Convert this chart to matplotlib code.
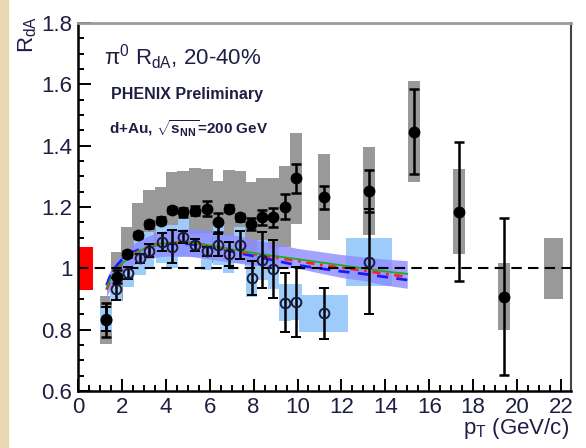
import matplotlib
matplotlib.use("Agg")
import matplotlib.pyplot as plt
from matplotlib.patches import Rectangle
from matplotlib.ticker import MultipleLocator
import numpy as np

plt.rcParams['font.family'] = ['Liberation Sans', 'DejaVu Sans']
plt.rcParams['mathtext.fontset'] = 'custom'
plt.rcParams['mathtext.rm'] = 'Liberation Sans'
plt.rcParams['mathtext.it'] = 'Liberation Sans:italic'
plt.rcParams['mathtext.bf'] = 'Liberation Sans:bold'

# filled points (black) with stat errors and gray sys boxes
pt_fill = [1.28, 1.76, 2.22, 2.75, 3.24, 3.76, 4.29, 4.80, 5.33, 5.86, 6.39, 6.87, 7.39, 7.90, 8.40, 8.90, 9.43, 9.93,
           11.22, 13.26, 15.32, 17.37, 19.41]
r_fill = [0.832, 0.973, 1.047, 1.109, 1.143, 1.155, 1.190, 1.183, 1.188, 1.195, 1.150, 1.195, 1.166, 1.145, 1.166,
          1.166, 1.201, 1.294, 1.232, 1.253, 1.446, 1.185, 0.908]
stat_fill = [0.055, 0.02, 0.01, 0.01, 0.01, 0.012, 0.01, 0.015, 0.015, 0.025, 0.03, 0.01, 0.012, 0.02, 0.025, 0.03,
             0.04, 0.047, 0.038, 0.068, 0.139, 0.226, 0.255]
sys_fill = [0.078, 0.081, 0.089, 0.103, 0.111, 0.11, 0.125, 0.135, 0.138, 0.13, 0.134, 0.125, 0.15, 0.136, 0.128,
            0.128, 0.133, 0.148, 0.14, 0.144, 0.165, 0.138, 0.11]

# open points with light blue sys boxes
pt_open = [1.28, 1.73, 2.29, 2.82, 3.22, 3.81, 4.29, 4.80, 5.33, 5.86, 6.39, 6.86, 7.37, 7.91, 8.40, 8.90, 9.43, 9.93,
           11.20, 13.26]
r_open = [0.835, 0.932, 0.984, 1.033, 1.058, 1.085, 1.071, 1.103, 1.075, 1.056, 1.076, 1.046, 1.076, 0.968, 1.027,
          0.997, 0.888, 0.890, 0.853, 1.022]
stat_open = [0.04, 0.035, 0.02, 0.015, 0.02, 0.03, 0.055, 0.02, 0.02, 0.015, 0.035, 0.04, 0.045, 0.055, 0.092, 0.095,
             0.097, 0.113, 0.083, 0.17]
sys_open = [0.035, 0.04, 0.045, 0.055, 0.06, 0.068, 0.07, 0.065, 0.037, 0.06, 0.065, 0.06, 0.058, 0.06, 0.065,
            0.065, 0.06, 0.06, 0.06, 0.078]
bin_open = [0.26] * 18 + [1.12, 1.05]

# theory curves and band
pt_th = [1.3, 1.4, 1.5, 1.75, 2, 2.5, 3, 3.5, 4, 5, 6, 7, 8, 9, 10, 11, 12, 13, 14, 15]
th_green = [0.935, 0.952, 0.968, 0.995, 1.015, 1.045, 1.064, 1.076, 1.082, 1.085, 1.075, 1.062, 1.05, 1.04, 1.03,
            1.02, 1.01, 1.0, 0.99, 0.982]
th_red = [0.93, 0.948, 0.965, 0.993, 1.014, 1.045, 1.065, 1.077, 1.083, 1.085, 1.074, 1.06, 1.047, 1.035, 1.024,
          1.012, 1.002, 0.993, 0.982, 0.972]
th_blue = [0.945, 0.963, 0.98, 1.008, 1.028, 1.053, 1.068, 1.076, 1.08, 1.08, 1.07, 1.055, 1.04, 1.025, 1.01, 1.0,
           0.99, 0.982, 0.972, 0.962]
band_hi = [0.965, 0.982, 0.998, 1.027, 1.048, 1.078, 1.099, 1.114, 1.124, 1.13, 1.125, 1.11, 1.095, 1.08, 1.065,
           1.055, 1.045, 1.037, 1.03, 1.025]
band_lo = [0.905, 0.922, 0.938, 0.963, 0.982, 1.01, 1.028, 1.036, 1.04, 1.04, 1.03, 1.02, 1.01, 1.005, 1.0, 0.985,
           0.97, 0.96, 0.945, 0.935]

# normalization boxes
norm_open = 0.07
norm_fill = 0.10

txt = '#1e1e44'
fig = plt.figure(figsize=(5.86, 4.48), dpi=100)
fig.patches.append(Rectangle((0, 0), 8 / 586, 1, transform=fig.transFigure, color='#e9d9b2', zorder=0))
ax = fig.add_axes([78 / 586, 57 / 448, 493 / 586, 368 / 448])

# gray sys boxes for filled points
for x, y, s in zip(pt_fill, r_fill, sys_fill):
    ax.add_patch(Rectangle((x - 0.27, y - s), 0.54, 2 * s, color='#999999', lw=0, zorder=1))
# light blue sys boxes for open points
for x, y, s, w in zip(pt_open, r_open, sys_open, bin_open):
    ax.add_patch(Rectangle((x - w, y - s), 2 * w, 2 * s, color='#9dccfb', lw=0, zorder=2))

ax.fill_between(pt_th, band_lo, band_hi, color='#8c8cff', alpha=0.8, lw=0, zorder=3)
ax.plot(pt_th, th_blue, color='#1a1aff', lw=2, ls=(0, (4, 3)), zorder=4)
ax.plot(pt_th, th_red, color='#ff2020', lw=2, ls=(0, (3, 2, 1, 2)), zorder=4)
ax.plot(pt_th, th_green, color='#22aa22', lw=1.3, zorder=4)

ax.axhline(1.0, color='black', lw=1.5, ls=(0, (5, 3)), zorder=5)

ax.add_patch(Rectangle((0.05, 1 - norm_open), 0.65, 2 * norm_open, color='#ff0000', lw=0, zorder=2))
ax.add_patch(Rectangle((21.24, 1 - norm_fill), 0.84, 2 * norm_fill, color='#999999', lw=0, zorder=2))

ax.errorbar(pt_open, r_open, yerr=stat_open, fmt='o', ms=7, mfc='none', mec='#1a1a3a', mew=1.4,
            ecolor='black', elinewidth=1.8, capsize=3.5, capthick=1.8, zorder=6)
ax.errorbar(pt_fill, r_fill, yerr=stat_fill, fmt='o', ms=7.5, mfc='black', mec='black',
            ecolor='black', elinewidth=1.8, capsize=3.5, capthick=1.8, zorder=7)

ax.set_xlim(0, 22.46)
ax.set_ylim(0.6, 1.8)
ax.xaxis.set_major_locator(MultipleLocator(2))
ax.xaxis.set_minor_locator(MultipleLocator(0.5))
ax.yaxis.set_major_locator(MultipleLocator(0.2))
ax.yaxis.set_minor_locator(MultipleLocator(0.05))
ax.yaxis.set_major_formatter(matplotlib.ticker.FuncFormatter(lambda v, p: '%g' % round(v, 1)))
ax.tick_params(which='both', direction='in', top=False, right=False, width=1.4, colors='black',
               labelcolor=txt, labelsize=16, pad=4)
ax.tick_params(which='major', length=9)
ax.tick_params(which='minor', length=4.5)
for side in ['left', 'bottom']:
    ax.spines[side].set_linewidth(1.8)
ax.spines['top'].set_color('#9a9a9a')
ax.spines['top'].set_linewidth(2)
ax.spines['right'].set_color('#444444')
ax.spines['right'].set_linewidth(1.5)

ax.text(0.052, 0.887, r'π$^{0}$ R$_{\rm dA}$, 20-40%', transform=ax.transAxes, fontsize=16, color=txt)
ax.text(0.066, 0.793, 'PHENIX Preliminary', transform=ax.transAxes, fontsize=11.5, fontweight='bold', color=txt)
ax.text(0.062, 0.698, r'd+Au, $\sqrt{\mathbf{s}_{\mathbf{NN}}}$=200 GeV', transform=ax.transAxes, fontsize=11,
        fontweight='bold', color=txt)

fig.text(28 / 586, 1 - 16 / 448, r'R$_{\rm dA}$', rotation=90, ha='center', va='top', fontsize=16, color=txt)
fig.text(569 / 586, 1 - 416 / 448, r'p$_{\rm T}$ (GeV/c)', ha='right', va='top', fontsize=16, color=txt)

fig.savefig('out.png', dpi=100)
